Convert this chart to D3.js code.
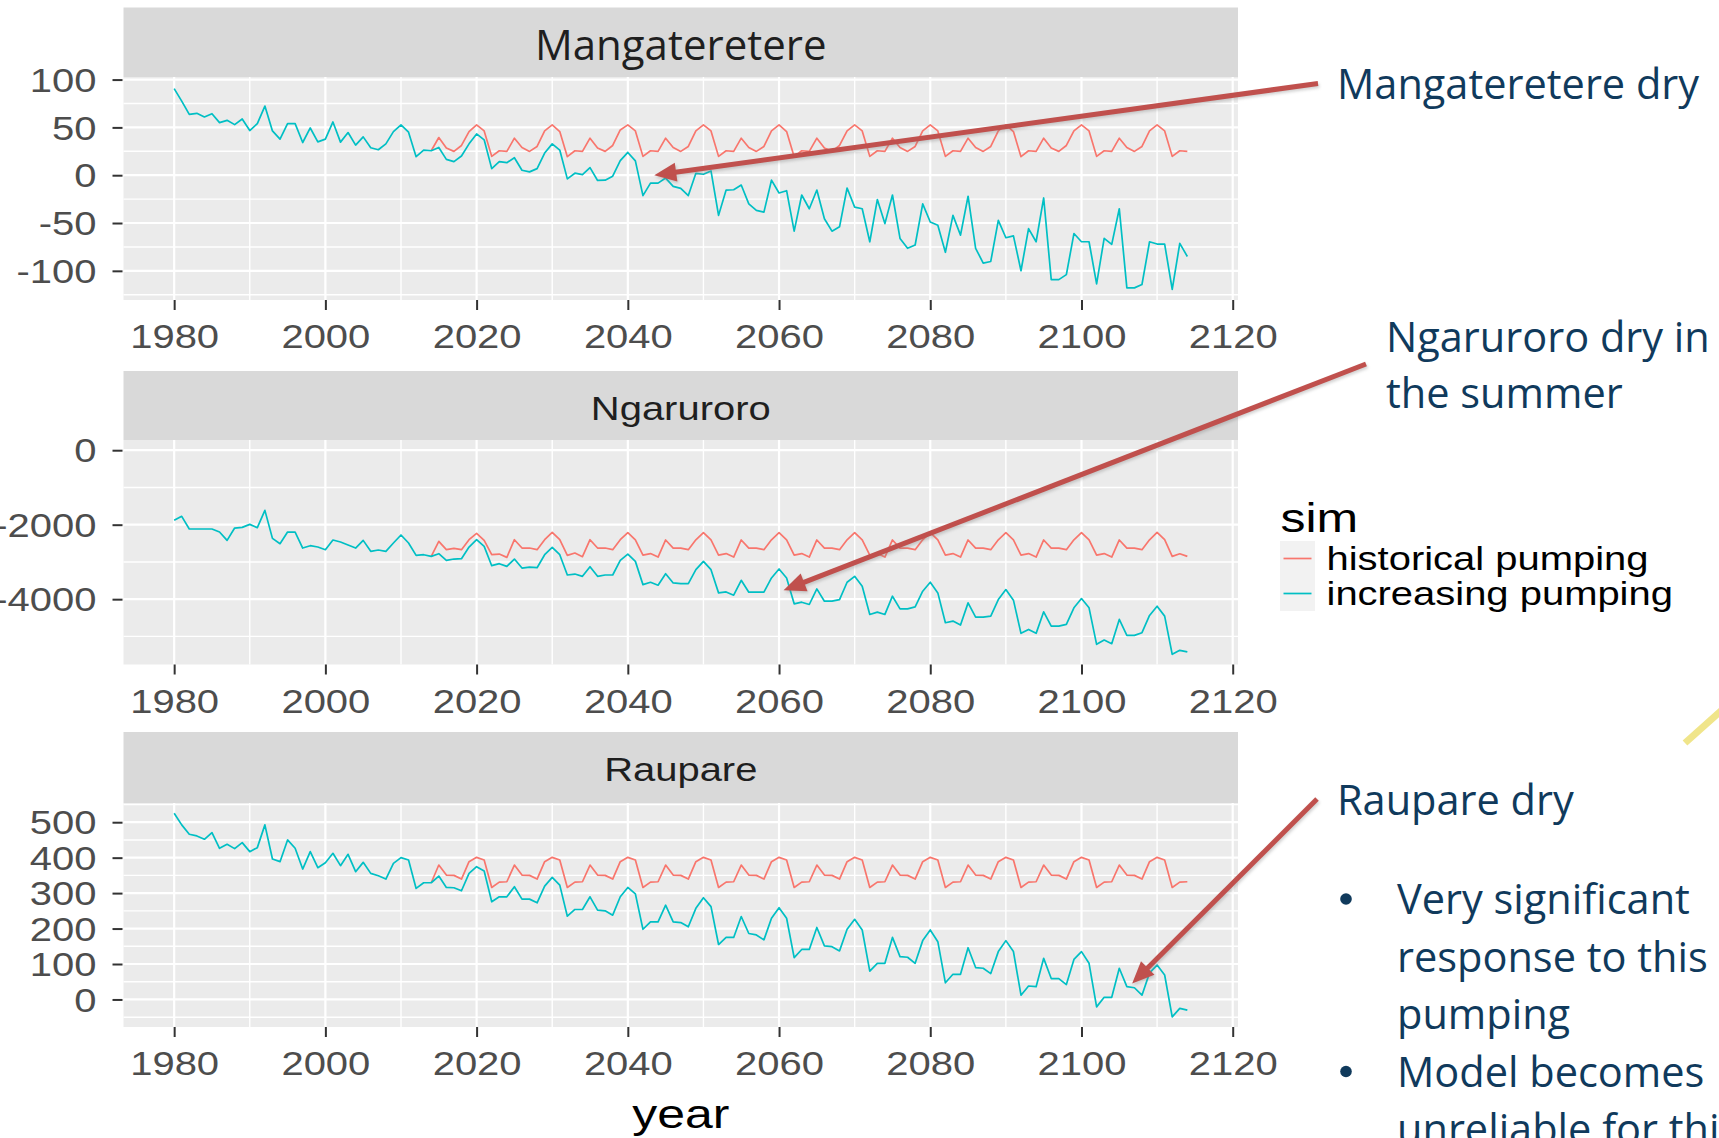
<!DOCTYPE html>
<html>
<head>
<meta charset="utf-8">
<script src="https://cdn.jsdelivr.net/npm/d3@7"></script>
<style>
  body { margin: 0; background: #ffffff; }
  svg { display: block; }
</style>
</head>
<body>
<svg id="chart" width="1719" height="1138"></svg>
<script>
// ---- data -------------------------------------------------------------
const FACETS = ["Mangateretere", "Ngaruroro", "Raupare"];
const SIMS = ["historical pumping", "increasing pumping"];
const SIM_COLORS = ["#F8766D", "#00BFC4"];
const INCREASING_FIRST_YEAR = 1980;
const HISTORICAL_FIRST_YEAR = 2014;
const X_TICKS = [1980, 2000, 2020, 2040, 2060, 2080, 2100, 2120];

// Mangateretere, increasing pumping, 1980-2114
const mangIncreasing = [
  90.6, 77.5, 63.6, 64.7, 60.9, 64.3, 55, 57.4, 52.9, 58.8,
  46.7, 53.9, 72.3, 46.3, 37.7, 53.9, 53.9, 34.2, 49.4, 34.9,
  37.7, 55.7, 34.6, 44.6, 31.5, 40.1, 28.7, 26.6, 32.8, 45.6,
  52.6, 45, 19.4, 26.3, 25.6, 29, 16.6, 14.2, 20.1, 32.8,
  43.2, 37, 6.9, 14.2, 13.1, 18.3, 5.2, 3.5, 6.9, 23.2,
  32.8, 26.3, -3.8, 2.1, 0.7, 8, -5.5, -5.2, -1, 15.2,
  23.8, 15, -21.3, -8.3, -8.3, -3, -11.7, -13.8, -21.3, 2,
  1, 4.5, -42, -15.5, -15.2, -10.3, -30, -36.8, -38.6, -5.2,
  -18.6, -16.2, -58.5, -20.7, -35.1, -15.5, -45.5, -58.5, -54, -13.4,
  -33.4, -35.1, -69.6, -25.5, -50.6, -20.7, -66.1, -76.4, -73, -30,
  -48.9, -52.3, -80.6, -42, -62.7, -22, -76.4, -91.9, -90.2, -47.2,
  -65.4, -63.4, -99.9, -55.8, -69.6, -23.8, -109.2, -109.2, -104, -61,
  -69.6, -69.6, -113.6, -66.1, -72.3, -35.1, -117.8, -117.8, -114.3, -69.6,
  -72, -72, -119.5, -71.3, -85
];
// Mangateretere, historical pumping, 2014-2114
const mangHistorical = [
  25.6, 39.4, 28.4, 24.9, 31.1, 45.6,
  52.6, 46.3, 19.7, 25.6, 24.9, 38.7, 29, 24.9, 30.1, 46.3,
  52.6, 45.6, 19.4, 25.6, 24.9, 38.7, 28.4, 24.9, 31.1, 47.3,
  52.6, 46.3, 19.7, 25.6, 24.9, 38.7, 29, 24.9, 30.1, 46.3,
  52.6, 46.3, 19.7, 25.6, 24.9, 38.7, 29, 24.9, 30.1, 46.3,
  52.6, 45.6, 19.4, 25.6, 24.9, 38.7, 28.4, 24.9, 31.1, 46.3,
  52.6, 46.3, 19.7, 25.6, 24.9, 38.7, 29, 24.9, 30.1, 46.3,
  52.6, 46.3, 19.7, 25.6, 24.9, 38.7, 29, 24.9, 30.1, 46.3,
  52.6, 45.6, 19.4, 25.6, 24.9, 38.7, 28.4, 24.9, 31.1, 46.3,
  52.6, 46.3, 19.7, 25.6, 24.9, 38.7, 29, 24.9, 30.1, 46.3,
  52.6, 46.3, 19.7, 25.6, 24.9
];

// Ngaruroro, increasing pumping, 1980-2114
const ngarIncreasing = [
  -1884, -1776, -2116, -2116, -2116, -2116, -2197, -2421, -2090, -2072,
  -1991, -2081, -1615, -2367, -2510, -2197, -2197, -2627, -2564, -2600,
  -2671, -2412, -2465, -2546, -2627, -2421, -2716, -2680, -2716, -2492,
  -2277, -2492, -2823, -2806, -2850, -2779, -2958, -2922, -2913, -2600,
  -2403, -2582, -3101, -3047, -3119, -2922, -3164, -3137, -3155, -2806,
  -2609, -2806, -3351, -3325, -3387, -3128, -3387, -3351, -3351, -2958,
  -2789, -2985, -3609, -3546, -3626, -3315, -3564, -3582, -3582, -3208,
  -2985, -3208, -3831, -3805, -3894, -3493, -3813, -3813, -3813, -3430,
  -3190, -3430, -4125, -4081, -4143, -3724, -4054, -4054, -4010, -3546,
  -3386, -3653, -4410, -4348, -4410, -3920, -4259, -4259, -4206, -3787,
  -3546, -3831, -4633, -4589, -4696, -4099, -4482, -4482, -4455, -4010,
  -3742, -4027, -4918, -4811, -4918, -4339, -4722, -4722, -4678, -4232,
  -3983, -4232, -5212, -5097, -5195, -4544, -4972, -4972, -4900, -4437,
  -4188, -4455, -5480, -5373, -5417
];
// Ngaruroro, historical pumping, 2014-2114
const ngarHistorical = [
  -2850, -2447, -2671, -2635, -2671, -2403,
  -2233, -2421, -2806, -2788, -2877, -2403, -2627, -2627, -2671, -2403,
  -2206, -2403, -2823, -2761, -2859, -2403, -2627, -2627, -2671, -2403,
  -2215, -2410, -2815, -2775, -2870, -2410, -2630, -2630, -2670, -2405,
  -2215, -2410, -2815, -2775, -2870, -2410, -2630, -2630, -2670, -2405,
  -2215, -2410, -2815, -2775, -2870, -2410, -2630, -2630, -2670, -2405,
  -2215, -2410, -2815, -2775, -2870, -2410, -2630, -2630, -2670, -2405,
  -2215, -2410, -2815, -2775, -2870, -2410, -2630, -2630, -2670, -2405,
  -2215, -2410, -2815, -2775, -2870, -2410, -2630, -2630, -2670, -2405,
  -2215, -2410, -2815, -2775, -2870, -2410, -2630, -2630, -2670, -2405,
  -2206, -2403, -2850, -2780, -2850
];

// Raupare, increasing pumping, 1980-2114
const raupIncreasing = [
  525.5, 492.5, 466, 461.3, 451.9, 470.8, 426.4, 437.7, 425.5, 442.5,
  417, 428.3, 492.5, 396.2, 388.7, 450, 426.4, 367.9, 417, 371.7,
  385.8, 412.3, 377.4, 409.4, 360.4, 386.8, 355.7, 349.1, 339.6, 384,
  400, 393.4, 313.2, 329.2, 329.2, 348.1, 316, 315.1, 306.6, 355.7,
  374.5, 362.3, 275.5, 289.6, 289.6, 317.9, 283, 283, 272.6, 319.8,
  344.3, 322.6, 234.9, 253.8, 253.8, 289.6, 251.9, 250, 237.7, 289.6,
  316, 298, 198, 219, 219, 266, 219, 217, 205, 257,
  287, 262, 155, 175, 175, 234, 186, 182, 168, 229,
  259, 229, 118, 141, 141, 203, 151, 149, 137, 198,
  226, 196, 80, 102, 102, 175, 121, 119, 102, 166,
  196, 163, 47, 71, 71, 146, 90, 88, 73, 135,
  166, 135, 12, 38, 36, 116, 59, 59, 42, 113,
  135, 102, -21, 6, 6, 88, 36, 33, 12, 75,
  97, 69, -49, -25, -30
];
// Raupare, historical pumping, 2014-2114
const raupHistorical = [
  329.2, 379.2, 350.9, 350, 339.6, 388.7,
  400.9, 393.4, 316, 331.1, 332.1, 379.2, 350.9, 350, 339.6, 388.7,
  400.9, 393.4, 316, 331.1, 332.1, 379.2, 350.9, 350, 339.6, 388.7,
  400.9, 393.4, 316, 331.1, 332.1, 379.2, 350.9, 350, 339.6, 388.7,
  400.9, 393.4, 316, 331.1, 332.1, 379.2, 350.9, 350, 339.6, 388.7,
  400.9, 393.4, 316, 331.1, 332.1, 379.2, 350.9, 350, 339.6, 388.7,
  400.9, 393.4, 316, 331.1, 332.1, 379.2, 350.9, 350, 339.6, 388.7,
  400.9, 393.4, 316, 331.1, 332.1, 379.2, 350.9, 350, 339.6, 388.7,
  400.9, 393.4, 316, 331.1, 332.1, 379.2, 350.9, 350, 339.6, 388.7,
  400.9, 393.4, 316, 331.1, 332.1, 379.2, 350.9, 350, 339.6, 388.7,
  400.9, 393.4, 316, 331.1, 332.1
];

const mangYTicks = [-100, -50, 0, 50, 100];
const ngarYTicks = [-4000, -2000, 0];
const raupYTicks = [0, 100, 200, 300, 400, 500];
const mangYLimits = [-130.5, 102.7];
const ngarYLimits = [-5754, 274];
const raupYLimits = [-77.7, 554.2];

// ---- layout ----------------------------------------------------------
const svg = d3.select("#chart");
const PANEL_LEFT = 123.5, PANEL_RIGHT = 1238;
const AXIS_FONT = "'Liberation Sans', Arial, sans-serif";
const NOTE_FONT = "'Open Sans', 'Noto Sans', sans-serif";
const STRETCH = 1.23;             // horizontal text stretch of the plot
const NOTE_COLOR = "#103A5C";
const ARROW_COLOR = "#C0504D";

const facetSpecs = [
  { name: FACETS[0], inc: mangIncreasing, hist: mangHistorical, ticks: mangYTicks, limits: mangYLimits,
    stripTop: 7.5, top: 77, bottom: 300, titleY: 59.5, titleFont: NOTE_FONT, titleSize: 42, titleStretch: 1 },
  { name: FACETS[1], inc: ngarIncreasing, hist: ngarHistorical, ticks: ngarYTicks, limits: ngarYLimits,
    stripTop: 371, top: 440, bottom: 664.5, titleY: 420, titleFont: AXIS_FONT, titleSize: 32.5, titleStretch: STRETCH },
  { name: FACETS[2], inc: raupIncreasing, hist: raupHistorical, ticks: raupYTicks, limits: raupYLimits,
    stripTop: 732, top: 803, bottom: 1027, titleY: 781, titleFont: AXIS_FONT, titleSize: 32.5, titleStretch: STRETCH }
];

// shared x scale (ggplot-style 5% expansion of the year range)
const lastYear = INCREASING_FIRST_YEAR + mangIncreasing.length - 1;
const pad = (lastYear - INCREASING_FIRST_YEAR) * 0.05;
const x = d3.scaleLinear()
  .domain([INCREASING_FIRST_YEAR - pad, lastYear + pad])
  .range([PANEL_LEFT, PANEL_RIGHT]);

const xMinor = d3.range(1970, 2140, 20).filter(v => v > x.domain()[0] && v < x.domain()[1]);

const defs = svg.append("defs");
defs.append("filter").attr("id", "softShadow")
  .append("feGaussianBlur").attr("stdDeviation", 1.6);

const yScales = {};

facetSpecs.forEach(f => {
  const y = d3.scaleLinear().domain(f.limits).range([f.bottom, f.top]);
  yScales[f.name] = y;
  const g = svg.append("g").attr("class", "facet");

  // strip
  g.append("rect").attr("x", PANEL_LEFT).attr("y", f.stripTop)
    .attr("width", PANEL_RIGHT - PANEL_LEFT).attr("height", f.top - f.stripTop)
    .attr("fill", "#D9D9D9");
  g.append("text")
    .attr("transform", `translate(${(PANEL_LEFT + PANEL_RIGHT) / 2},${f.titleY}) scale(${f.titleStretch},1)`)
    .attr("text-anchor", "middle")
    .attr("font-family", f.titleFont).attr("font-size", f.titleSize)
    .attr("fill", "#1F1F1F")
    .text(f.name);

  // panel background
  g.append("rect").attr("x", PANEL_LEFT).attr("y", f.top)
    .attr("width", PANEL_RIGHT - PANEL_LEFT).attr("height", f.bottom - f.top)
    .attr("fill", "#EBEBEB");

  // grid lines
  const step = f.ticks[1] - f.ticks[0];
  const yMinor = [f.ticks[0] - step / 2, ...f.ticks.map(t => t + step / 2)]
    .filter(v => v > f.limits[0] && v < f.limits[1]);
  const grid = g.append("g").attr("stroke", "#FFFFFF");
  grid.selectAll(".ymin").data(yMinor).join("line")
    .attr("x1", PANEL_LEFT).attr("x2", PANEL_RIGHT)
    .attr("y1", d => y(d)).attr("y2", d => y(d)).attr("stroke-width", 1.4);
  grid.selectAll(".xmin").data(xMinor).join("line")
    .attr("y1", f.top).attr("y2", f.bottom)
    .attr("x1", d => x(d)).attr("x2", d => x(d)).attr("stroke-width", 1.4);
  grid.selectAll(".ymaj").data(f.ticks).join("line")
    .attr("x1", PANEL_LEFT).attr("x2", PANEL_RIGHT)
    .attr("y1", d => y(d)).attr("y2", d => y(d)).attr("stroke-width", 2.2);
  grid.selectAll(".xmaj").data(X_TICKS.filter(v => x(v) < PANEL_RIGHT)).join("line")
    .attr("y1", f.top).attr("y2", f.bottom)
    .attr("x1", d => x(d)).attr("x2", d => x(d)).attr("stroke-width", 2.2);

  // series: historical first, increasing on top
  const series = [
    { values: f.hist, start: HISTORICAL_FIRST_YEAR, color: SIM_COLORS[0] },
    { values: f.inc, start: INCREASING_FIRST_YEAR, color: SIM_COLORS[1] }
  ];
  series.forEach(s => {
    const line = d3.line().x((d, i) => x(s.start + i)).y(d => y(d));
    g.append("path").datum(s.values)
      .attr("d", line).attr("fill", "none")
      .attr("stroke", s.color).attr("stroke-width", 1.7)
      .attr("stroke-linejoin", "round");
  });

  // y axis
  const yAxisG = g.append("g").attr("transform", `translate(${PANEL_LEFT - 1},0)`)
    .call(d3.axisLeft(y).tickValues(f.ticks).tickSize(10).tickFormat(d => String(d)));
  yAxisG.select(".domain").remove();
  yAxisG.selectAll(".tick line").attr("stroke", "#333333").attr("stroke-width", 2);
  yAxisG.selectAll(".tick text")
    .attr("x", 0).attr("dy", "0.36em")
    .attr("transform", `translate(-26,0) scale(${STRETCH},1)`)
    .attr("font-family", AXIS_FONT).attr("font-size", 32.5).attr("fill", "#4D4D4D");

  // x axis
  const xAxisG = g.append("g").attr("transform", `translate(0,${f.bottom})`)
    .call(d3.axisBottom(x).tickValues(X_TICKS).tickSize(10).tickFormat(d => String(d)));
  xAxisG.select(".domain").remove();
  xAxisG.selectAll(".tick line").attr("stroke", "#333333").attr("stroke-width", 2);
  xAxisG.selectAll(".tick text")
    .attr("y", 0).attr("dy", 0)
    .attr("transform", `translate(0,48) scale(${STRETCH},1)`)
    .attr("font-family", AXIS_FONT).attr("font-size", 32.5).attr("fill", "#4D4D4D");
});

// x axis title
svg.append("text")
  .attr("transform", `translate(${(PANEL_LEFT + PANEL_RIGHT) / 2},1128) scale(${STRETCH},1)`)
  .attr("text-anchor", "middle")
  .attr("font-family", AXIS_FONT).attr("font-size", 40.6).attr("fill", "#000000")
  .text("year");

// legend
const legend = svg.append("g").attr("class", "legend");
legend.append("text")
  .attr("transform", `translate(1280.5,531.5) scale(${STRETCH},1)`)
  .attr("font-family", AXIS_FONT).attr("font-size", 40.6).attr("fill", "#000000")
  .text("sim");
SIMS.forEach((name, i) => {
  const cy = 558.5 + i * 35;
  legend.append("rect").attr("x", 1280).attr("y", cy - 17.5)
    .attr("width", 35).attr("height", 35).attr("fill", "#F2F2F2");
  legend.append("line").attr("x1", 1283.5).attr("x2", 1311.5)
    .attr("y1", cy).attr("y2", cy)
    .attr("stroke", SIM_COLORS[i]).attr("stroke-width", 1.7);
  legend.append("text")
    .attr("transform", `translate(1326.5,${cy + 11.5}) scale(${STRETCH},1)`)
    .attr("font-family", AXIS_FONT).attr("font-size", 32.5).attr("fill", "#000000")
    .text(name);
});

// annotation text
const notes = svg.append("g").attr("font-family", NOTE_FONT)
  .attr("font-size", 41.5).attr("fill", NOTE_COLOR);
const noteLines = [
  { t: "Mangateretere dry", x: 1337, y: 99 },
  { t: "Ngaruroro dry in", x: 1386, y: 352 },
  { t: "the summer", x: 1386, y: 408 },
  { t: "Raupare dry", x: 1337, y: 815 },
  { t: "Very significant", x: 1397, y: 914 },
  { t: "response to this", x: 1397, y: 971.5 },
  { t: "pumping", x: 1397, y: 1029 },
  { t: "Model becomes", x: 1397, y: 1086.5 },
  { t: "unreliable for this", x: 1397, y: 1144 }
];
notes.selectAll("text.note").data(noteLines).join("text")
  .attr("class", "note").attr("x", d => d.x).attr("y", d => d.y).text(d => d.t);
// list bullets
notes.selectAll("circle.bullet").data([914, 1086.5]).join("circle")
  .attr("class", "bullet").attr("cx", 1346).attr("cy", d => d - 15).attr("r", 5.8);

// arrows from the notes to the lines they describe
const arrows = [
  { from: [1318, 83.5], facet: "Mangateretere", year: 2043.5, value: 0 },
  { from: [1366, 364], facet: "Ngaruroro", year: 2060.6, value: -3760 },
  { from: [1317, 799], facet: "Raupare", year: 2106.7, value: 45 }
];
const arrowG = svg.append("g");
arrows.forEach(a => {
  const tip = [x(a.year), yScales[a.facet](a.value)];
  const dx = tip[0] - a.from[0], dy = tip[1] - a.from[1];
  const len = Math.hypot(dx, dy), ux = dx / len, uy = dy / len;
  const headLen = 22, headHalf = 9.5;
  const base = [tip[0] - ux * headLen, tip[1] - uy * headLen];
  const lineEnd = [tip[0] - ux * headLen * 0.8, tip[1] - uy * headLen * 0.8];
  const head = [
    tip,
    [base[0] - uy * headHalf, base[1] + ux * headHalf],
    [base[0] + uy * headHalf, base[1] - ux * headHalf]
  ];
  [{ off: 2, col: "#7F7F7F", op: 0.35, filt: "url(#softShadow)" },
   { off: 0, col: ARROW_COLOR, op: 1, filt: null }].forEach(layer => {
    const lg = arrowG.append("g")
      .attr("transform", `translate(${layer.off * 0.6},${layer.off})`)
      .attr("opacity", layer.op).attr("filter", layer.filt);
    lg.append("line")
      .attr("x1", a.from[0]).attr("y1", a.from[1])
      .attr("x2", lineEnd[0]).attr("y2", lineEnd[1])
      .attr("stroke", layer.col).attr("stroke-width", 5);
    lg.append("polygon").attr("points", head.map(p => p.join(",")).join(" "))
      .attr("fill", layer.col);
  });
});

// decorative slide stroke at the right edge
svg.append("line").attr("x1", 1685).attr("y1", 743).attr("x2", 1722).attr("y2", 710)
  .attr("stroke", "#F0E58A").attr("stroke-width", 7);
</script>
</body>
</html>
